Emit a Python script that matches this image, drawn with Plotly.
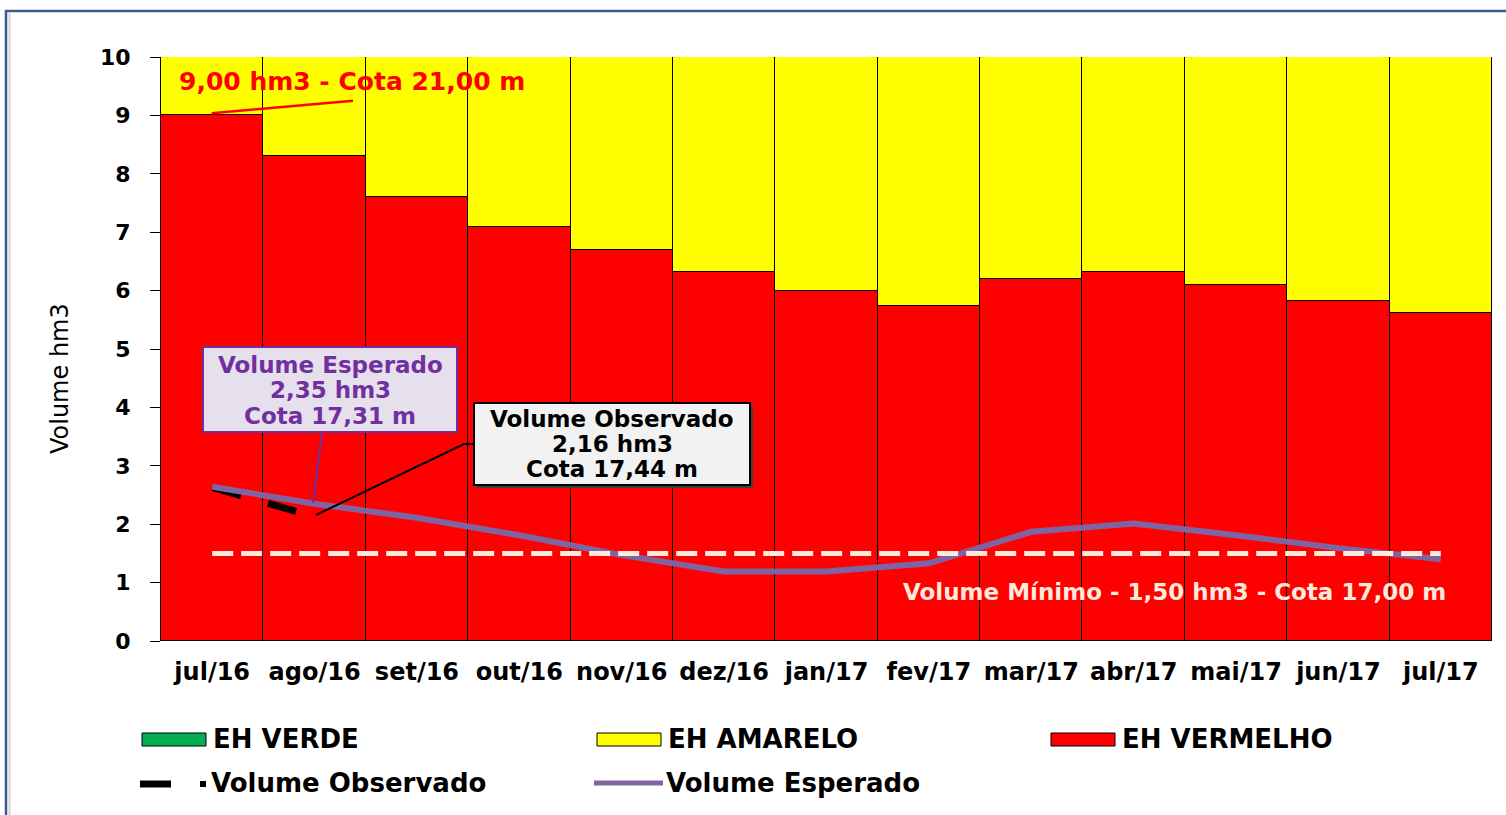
import plotly.graph_objects as go

# ---------------- data ----------------
meses = ["jul/16", "ago/16", "set/16", "out/16", "nov/16", "dez/16", "jan/17",
         "fev/17", "mar/17", "abr/17", "mai/17", "jun/17", "jul/17"]
eh_verde = [0, 0, 0, 0, 0, 0, 0, 0, 0, 0, 0, 0, 0]
eh_vermelho = [9.00, 8.30, 7.60, 7.09, 6.70, 6.32, 5.99, 5.74, 6.20, 6.32, 6.10, 5.82, 5.62]
eh_amarelo = [1.00, 1.70, 2.40, 2.91, 3.30, 3.68, 4.01, 4.26, 3.80, 3.68, 3.90, 4.18, 4.38]
vol_esperado = [2.64, 2.35, 2.11, 1.81, 1.47, 1.19, 1.19, 1.33, 1.87, 2.01, 1.81, 1.59, 1.40]
obs_mes = [0.0, 0.27, 0.54, 0.82]          # months elapsed since jul/16
vol_observado = [2.63, 2.49, 2.35, 2.22]
vol_minimo = [1.50, 1.50]
yticks = [0, 1, 2, 3, 4, 5, 6, 7, 8, 9, 10]

W, H = 1506, 815
ML, MR, MT, MB = 161, 14, 57, 174
PW, PH = W - ML - MR, H - MT - MB
N = len(meses)
FONT = "DejaVu Sans"


def X(px):  # pixel -> data x
    return (px - ML) / PW * N - 0.5


def Y(py):  # pixel -> data y
    return (H - MB - py) / PH * 10


def PX(px):
    return (px - ML) / PW


def PY(py):
    return (H - MB - py) / PH


xs = list(range(N))

fig = go.Figure()
fig.add_bar(x=xs, y=eh_verde, name="EH VERDE", width=1,
            marker=dict(color="#00B050", line=dict(width=0)), showlegend=False)
fig.add_bar(x=xs, y=eh_vermelho, name="EH VERMELHO", width=1,
            marker=dict(color="#FF0000", line=dict(color="black", width=1.5)), showlegend=False)
fig.add_bar(x=xs, y=eh_amarelo, name="EH AMARELO", width=1,
            marker=dict(color="#FFFF00", line=dict(color="black", width=1.5)), showlegend=False)
fig.add_scatter(x=obs_mes, y=vol_observado, mode="lines", name="Volume Observado",
                line=dict(color="black", width=7, dash="30px,28px"), showlegend=False)
fig.add_scatter(x=xs, y=vol_esperado, mode="lines", name="Volume Esperado",
                line=dict(color="#8064A2", width=6), showlegend=False)
fig.add_scatter(x=[xs[0], xs[-1]], y=vol_minimo, mode="lines", name="Volume Mínimo",
                line=dict(color="#FDEADA", width=5, dash="21px,8px"), showlegend=False)

shapes = []
annots = []

# red connector for 9,00 hm3
shapes.append(dict(type="line", xref="x", yref="y", x0=X(211.7), y0=Y(113.3), x1=X(353), y1=Y(100.7),
                   line=dict(color="#FF0000", width=2.5)))
annots.append(dict(xref="x", yref="y", x=X(352), y=Y(81), text="9,00 hm3 - Cota 21,00 m", showarrow=False,
                   xanchor="center", yanchor="middle",
                   font=dict(family=FONT, size=25, color="#FF0000", weight="bold")))

# Volume Esperado box
shapes.append(dict(type="rect", xref="x", yref="y", x0=X(203), x1=X(457), y0=Y(432), y1=Y(347),
                   fillcolor="#E6E0EC", line=dict(color="#7030A0", width=2)))
shapes.append(dict(type="line", xref="x", yref="y", x0=X(322), y0=Y(433), x1=X(313), y1=Y(503),
                   line=dict(color="#7030A0", width=2)))
for t, py in zip(["Volume Esperado", "2,35 hm3", "Cota 17,31 m"], [365, 390, 416]):
    annots.append(dict(xref="x", yref="y", x=X(330), y=Y(py), text=t, showarrow=False,
                       xanchor="center", yanchor="middle",
                       font=dict(family=FONT, size=23, color="#7030A0", weight="bold")))

# Volume Observado box
shapes.append(dict(type="rect", xref="x", yref="y", x0=X(477), x1=X(753), y0=Y(488), y1=Y(406),
                   fillcolor="#3F3F3F", line=dict(width=0)))
shapes.append(dict(type="rect", xref="x", yref="y", x0=X(474), x1=X(750), y0=Y(485), y1=Y(403),
                   fillcolor="#F2F2F2", line=dict(color="black", width=2)))
shapes.append(dict(type="path", xref="x", yref="y",
                   path=f"M {X(474)},{Y(444)} L {X(464)},{Y(444)} L {X(316)},{Y(515)}",
                   line=dict(color="black", width=2)))
for t, py in zip(["Volume Observado", "2,16 hm3", "Cota 17,44 m"], [419, 444, 469]):
    annots.append(dict(xref="x", yref="y", x=X(612), y=Y(py), text=t, showarrow=False,
                       xanchor="center", yanchor="middle",
                       font=dict(family=FONT, size=23, color="black", weight="bold")))

# Volume minimo label
annots.append(dict(xref="x", yref="y", x=X(1174), y=Y(592), text="Volume Mínimo - 1,50 hm3 - Cota 17,00 m",
                   showarrow=False, xanchor="center", yanchor="middle",
                   font=dict(family=FONT, size=23, color="#FDEADA", weight="bold")))

# y-axis title
annots.append(dict(xref="paper", yref="paper", x=PX(60), y=PY(379), text="Volume hm3", textangle=-90,
                   showarrow=False, xanchor="center", yanchor="middle",
                   font=dict(family=FONT, size=24, color="black")))

# legend (custom)
leg_font = dict(family=FONT, size=26, color="black", weight="bold")
for x0, col, label in [(142, "#00B050", "EH VERDE"), (597, "#FFFF00", "EH AMARELO"), (1051, "#FF0000", "EH VERMELHO")]:
    shapes.append(dict(type="rect", xref="paper", yref="paper", x0=PX(x0), x1=PX(x0 + 64), y0=PY(746), y1=PY(733),
                       fillcolor=col, line=dict(color="black", width=1)))
    annots.append(dict(xref="paper", yref="paper", x=PX(x0 + 69), y=PY(739), text=label, showarrow=False,
                       xanchor="left", yanchor="middle", font=leg_font))
shapes.append(dict(type="line", xref="paper", yref="paper", x0=PX(140), x1=PX(171), y0=PY(784), y1=PY(784),
                   line=dict(color="black", width=7)))
shapes.append(dict(type="line", xref="paper", yref="paper", x0=PX(200), x1=PX(206), y0=PY(784), y1=PY(784),
                   line=dict(color="black", width=6)))
annots.append(dict(xref="paper", yref="paper", x=PX(209), y=PY(783), text="Volume Observado", showarrow=False,
                   xanchor="left", yanchor="middle", font=leg_font))
shapes.append(dict(type="line", xref="paper", yref="paper", x0=PX(594), x1=PX(663), y0=PY(783), y1=PY(783),
                   line=dict(color="#8064A2", width=5)))
annots.append(dict(xref="paper", yref="paper", x=PX(664), y=PY(783), text="Volume Esperado", showarrow=False,
                   xanchor="left", yanchor="middle", font=leg_font))

# outer frame
shapes.append(dict(type="rect", xref="paper", yref="paper", x0=PX(6), x1=PX(1540), y0=PY(840), y1=PY(11),
                   line=dict(color="#385D8A", width=2.5), fillcolor="rgba(0,0,0,0)", layer="below"))
shapes.append(dict(type="line", xref="paper", yref="paper", x0=PX(9.5), x1=PX(9.5), y0=PY(815), y1=PY(13),
                   line=dict(color="#D4D4D4", width=2), layer="below"))

fig.update_layout(
    width=W, height=H,
    margin=dict(l=ML, r=MR, t=MT, b=MB, pad=0),
    paper_bgcolor="white", plot_bgcolor="white",
    barmode="stack", bargap=0,
    showlegend=False,
    shapes=shapes, annotations=annots,
    font=dict(family=FONT, color="black"),
    xaxis=dict(range=[-0.5, N - 0.5], tickvals=xs, ticktext=meses, ticks="", showgrid=False,
               zeroline=False, showline=False, ticklabelstandoff=14,
               tickfont=dict(family=FONT, size=24, color="black", weight="bold")),
    yaxis=dict(range=[0, 10], tickvals=yticks, ticks="outside", ticklen=10, tickcolor="black",
               showgrid=False, zeroline=False, showline=True, linecolor="black", linewidth=1,
               ticklabelstandoff=15,
               tickfont=dict(family=FONT, size=22, color="black", weight="bold")),
    yaxis2=dict(range=[0, 10], overlaying="y", anchor="x", side="left", tickvals=yticks,
                ticks="inside", ticklen=10, tickcolor="black", showticklabels=False,
                showgrid=False, zeroline=False, showline=False),
)

fig.write_html("out.html", config={"displayModeBar": False},
               post_script="document.body.style.margin='0';")
